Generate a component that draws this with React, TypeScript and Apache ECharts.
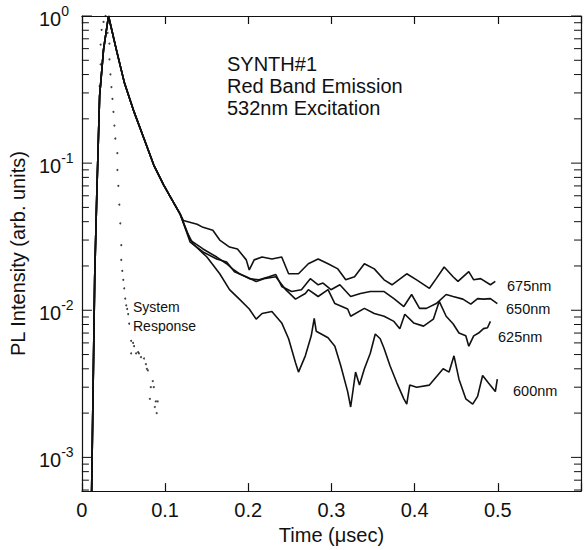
import React, { useEffect, useRef } from "react";
import * as echarts from "echarts";

const FONT = '"Liberation Sans", Arial, Helvetica, sans-serif';
const INK = "#111";

// Axis ranges
const X_MIN = 0;
const X_MAX = 0.6;
const Y_MIN = 0.00059;
const Y_MAX = 1;

// Tick values (log axis)
const yMajorTicks = [0.001, 0.01, 0.1, 1];
const yMinorTicks = [
  0.0006, 0.0007, 0.0008, 0.0009,
  0.002, 0.003, 0.004, 0.005, 0.006, 0.007, 0.008, 0.009,
  0.02, 0.03, 0.04, 0.05, 0.06, 0.07, 0.08, 0.09,
  0.2, 0.3, 0.4, 0.5, 0.6, 0.7, 0.8, 0.9,
];

// Shared rise + early decay (all four wavelengths overlap here)
const commonPart: number[][] = [
  [0.0116, 0.00055], [0.0154, 0.0169], [0.0178, 0.0582], [0.0213, 0.286],
  [0.026, 0.591], [0.032, 1.0], [0.0414, 0.591], [0.0509, 0.355],
  [0.0627, 0.223], [0.0746, 0.147], [0.0864, 0.097], [0.0982, 0.0712],
  [0.1089, 0.0556], [0.1183, 0.0448],
];

const tail675: number[][] = [
  [0.1219, 0.0408], [0.1385, 0.0384], [0.1456, 0.0366], [0.1574, 0.035],
  [0.1657, 0.03], [0.1775, 0.0269], [0.187, 0.0261], [0.1976, 0.022],
  [0.2012, 0.0188], [0.2071, 0.022], [0.2166, 0.023], [0.2284, 0.0223],
  [0.2402, 0.023], [0.2485, 0.0177], [0.2604, 0.0177], [0.2722, 0.0207],
  [0.284, 0.0223], [0.2959, 0.0207], [0.3077, 0.0191], [0.3172, 0.0161],
  [0.3278, 0.0169], [0.3396, 0.0207], [0.3515, 0.0191], [0.3633, 0.0161],
  [0.3728, 0.0149], [0.3905, 0.0177], [0.4024, 0.0161], [0.4178, 0.0141],
  [0.426, 0.0164], [0.4355, 0.0197], [0.4462, 0.0169], [0.4521, 0.0157],
  [0.4651, 0.0183], [0.471, 0.0161], [0.4793, 0.0164], [0.4911, 0.0149],
  [0.497, 0.0157],
];

const tail650: number[][] = [
  [0.1302, 0.03], [0.1456, 0.0261], [0.1621, 0.023], [0.174, 0.0207],
  [0.1811, 0.0191], [0.1893, 0.0177], [0.2012, 0.0164], [0.213, 0.0161],
  [0.2249, 0.0169], [0.2331, 0.0175], [0.2402, 0.0145], [0.2521, 0.0134],
  [0.2639, 0.0138], [0.2746, 0.0164], [0.284, 0.0149], [0.2899, 0.0153],
  [0.2994, 0.0138], [0.3101, 0.0149], [0.3231, 0.0124], [0.3349, 0.013],
  [0.3467, 0.0134], [0.3633, 0.0134], [0.3751, 0.012], [0.387, 0.0106],
  [0.3964, 0.0128], [0.4059, 0.0103], [0.4142, 0.0103], [0.426, 0.0111],
  [0.4379, 0.0128], [0.4462, 0.0124], [0.458, 0.0119], [0.4675, 0.011],
  [0.4757, 0.012], [0.4828, 0.0119], [0.4911, 0.012], [0.4994, 0.0111],
];

const tail625: number[][] = [
  [0.1302, 0.029], [0.1456, 0.0249], [0.1621, 0.0223], [0.174, 0.0213],
  [0.1834, 0.0183], [0.1976, 0.0169], [0.2095, 0.0157], [0.2189, 0.0164],
  [0.2331, 0.0169], [0.245, 0.0138], [0.2568, 0.0119], [0.2686, 0.013],
  [0.2722, 0.0138], [0.284, 0.0124], [0.2959, 0.0138], [0.3041, 0.0111],
  [0.3195, 0.0102], [0.3231, 0.0091], [0.3396, 0.0103], [0.3515, 0.0095],
  [0.3633, 0.0091], [0.3751, 0.0084], [0.3822, 0.0075], [0.3882, 0.0094],
  [0.3988, 0.0082], [0.4107, 0.0078], [0.4225, 0.0087], [0.4296, 0.0115],
  [0.4379, 0.0091], [0.4462, 0.0081], [0.4533, 0.007], [0.4615, 0.0067],
  [0.4651, 0.0057], [0.471, 0.0067], [0.4769, 0.007], [0.4828, 0.0075],
  [0.4876, 0.0076], [0.4911, 0.0084],
];

const tail600: number[][] = [
  [0.1266, 0.0339], [0.1337, 0.0282], [0.1503, 0.023], [0.1657, 0.0177],
  [0.1775, 0.0138], [0.1893, 0.0119], [0.2012, 0.0102], [0.2095, 0.0087],
  [0.2166, 0.0095], [0.2284, 0.0098], [0.2402, 0.0082], [0.2485, 0.0064],
  [0.2568, 0.0044], [0.2604, 0.0038], [0.2686, 0.0049], [0.2757, 0.0067],
  [0.2793, 0.0088], [0.2817, 0.0072], [0.2959, 0.0065], [0.3041, 0.0057],
  [0.3112, 0.0042], [0.3195, 0.0028], [0.3231, 0.0022], [0.329, 0.0038],
  [0.3337, 0.0031], [0.3396, 0.004], [0.3467, 0.0051], [0.3527, 0.0069],
  [0.3586, 0.0064], [0.3633, 0.0055], [0.3704, 0.0042], [0.3787, 0.0032],
  [0.387, 0.0025], [0.3905, 0.0023], [0.3941, 0.0031], [0.4024, 0.003],
  [0.4178, 0.0031], [0.4343, 0.004], [0.4414, 0.0038], [0.4473, 0.0049],
  [0.4533, 0.0034], [0.4615, 0.0025], [0.4698, 0.0023], [0.4757, 0.0026],
  [0.4817, 0.0036], [0.4888, 0.0032], [0.497, 0.0028], [0.4994, 0.0034],
];

const systemResponse: number[][] = [
  [0.0213, 0.334], [0.0225, 0.469], [0.0225, 0.639], [0.0237, 0.805],
  [0.026, 0.911], [0.0284, 1.0], [0.0308, 0.769], [0.0331, 0.649],
  [0.0331, 0.507], [0.0343, 0.401], [0.0355, 0.329], [0.0367, 0.273],
  [0.0379, 0.223], [0.0391, 0.18], [0.0402, 0.147], [0.0426, 0.117],
  [0.0426, 0.0898], [0.0438, 0.0701], [0.045, 0.0522], [0.0462, 0.039],
  [0.0473, 0.0277], [0.0473, 0.022], [0.0485, 0.0185], [0.0497, 0.0161],
  [0.0509, 0.0141], [0.0521, 0.012], [0.0533, 0.0108], [0.0544, 0.0102],
  [0.0556, 0.0094], [0.0568, 0.0081], [0.0592, 0.0062], [0.0615, 0.006],
  [0.0627, 0.0057], [0.0592, 0.0051], [0.0651, 0.0051], [0.0675, 0.0052],
  [0.0686, 0.0051], [0.071, 0.0048], [0.0746, 0.0047], [0.0769, 0.0043],
  [0.0781, 0.004], [0.0793, 0.0039], [0.0852, 0.0033], [0.0828, 0.003],
  [0.0864, 0.003], [0.0817, 0.0025], [0.0888, 0.0024], [0.0911, 0.0024],
  [0.0899, 0.002], [0.0876, 0.0022],
];

const curveLabels = [
  { text: "675nm", x: 507, y: 286 },
  { text: "650nm", x: 506, y: 309 },
  { text: "625nm", x: 498, y: 337 },
  { text: "600nm", x: 513, y: 391 },
];
const titleLines = ["SYNTH#1", "Red Band Emission", "532nm Excitation"];

function tickSeries(values: number[], len: number) {
  return {
    type: "custom",
    xAxisIndex: 0,
    yAxisIndex: 0,
    silent: true,
    clip: false,
    z: 5,
    data: values.map((v) => [X_MIN, v]),
    renderItem: (params: any, api: any) => {
      const v = api.value(1);
      const p0 = api.coord([X_MIN, v]);
      const p1 = api.coord([X_MAX, v]);
      const style = { stroke: INK, lineWidth: 1 };
      return {
        type: "group",
        children: [
          { type: "line", shape: { x1: p0[0], y1: p0[1], x2: p0[0] + len, y2: p0[1] }, style },
          { type: "line", shape: { x1: p1[0] - len, y1: p1[1], x2: p1[0], y2: p1[1] }, style },
        ],
      };
    },
  };
}

function lineSeries(name: string, tail: number[][]) {
  return {
    name,
    type: "line",
    xAxisIndex: 0,
    yAxisIndex: 0,
    data: commonPart.concat(tail),
    showSymbol: false,
    symbol: "none",
    lineStyle: { color: INK, width: 1.6 },
    z: 3,
  };
}

export default function App() {
  const ref = useRef<HTMLDivElement>(null);
  useEffect(() => {
    if (!ref.current) return;
    const chart = echarts.init(ref.current, null, { renderer: "svg" });
    const axisLineStyle = { lineStyle: { color: INK, width: 1.2 } };
    const option: any = {
      animation: false,
      backgroundColor: "#fff",
      grid: { left: 79, right: -3, top: 16, bottom: 53, containLabel: false },
      xAxis: [
        {
          type: "value",
          position: "bottom",
          min: X_MIN,
          max: X_MAX,
          interval: 0.1,
          axisLine: { show: true, onZero: false, ...axisLineStyle },
          axisTick: { show: true, inside: true, length: 8, lineStyle: { color: INK, width: 1.2 } },
          splitLine: { show: false },
          axisLabel: {
            margin: 9,
            fontFamily: FONT,
            fontSize: 20,
            color: INK,
            formatter: (v: number) => (v > 0.55 ? "" : v === 0 ? "0" : String(Math.round(v * 10) / 10)),
          },
          name: "Time (\u03bcsec)",
          nameLocation: "middle",
          nameGap: 28,
          nameTextStyle: { fontFamily: FONT, fontSize: 20, color: INK },
        },
        {
          type: "value",
          position: "top",
          min: X_MIN,
          max: X_MAX,
          interval: 0.1,
          axisLine: { show: true, onZero: false, ...axisLineStyle },
          axisTick: { show: true, inside: true, length: 8, lineStyle: { color: INK, width: 1.2 } },
          splitLine: { show: false },
          axisLabel: { show: false },
        },
      ],
      yAxis: [
        {
          type: "log",
          logBase: 10,
          position: "left",
          min: Y_MIN,
          max: Y_MAX,
          axisLine: { show: true, onZero: false, ...axisLineStyle },
          axisTick: { show: false },
          minorTick: { show: false },
          splitLine: { show: false },
          axisLabel: {
            margin: 43,
            align: "left",
            formatter: (v: number) => {
              const e = Math.log10(v);
              const r = Math.round(e);
              if (Math.abs(e - r) > 1e-6) return "";
              return "{b|10}{s|" + (r === 0 ? "0" : String(r)) + "}";
            },
            rich: {
              b: { fontFamily: FONT, fontSize: 20, color: INK, lineHeight: 24, padding: [6, 0, 0, 0] },
              s: { fontFamily: FONT, fontSize: 14, color: INK, lineHeight: 14, verticalAlign: "top" },
            },
          },
          name: "PL Intensity (arb. units)",
          nameLocation: "middle",
          nameGap: 50,
          nameTextStyle: { fontFamily: FONT, fontSize: 20, color: INK },
        },
        {
          type: "log",
          logBase: 10,
          position: "right",
          min: Y_MIN,
          max: Y_MAX,
          axisLine: { show: true, onZero: false, ...axisLineStyle },
          axisTick: { show: false },
          splitLine: { show: false },
          axisLabel: { show: false },
        },
      ],
      graphic: [
        ...titleLines.map((t, i) => ({
          type: "text",
          x: 227,
          y: 64 + i * 22,
          style: { text: t, font: `20px ${FONT}`, fill: INK, align: "left", verticalAlign: "middle" },
        })),
        ...curveLabels.map((c) => ({
          type: "text",
          x: c.x,
          y: c.y,
          style: { text: c.text, font: `14.5px ${FONT}`, fill: INK, align: "left", verticalAlign: "middle" },
        })),
        {
          type: "text",
          x: 133,
          y: 307,
          style: { text: "System", font: `14px ${FONT}`, fill: INK, align: "left", verticalAlign: "middle" },
        },
        {
          type: "text",
          x: 133,
          y: 326,
          style: { text: "Response", font: `14px ${FONT}`, fill: INK, align: "left", verticalAlign: "middle" },
        },
      ],
      series: [
        lineSeries("675nm", tail675),
        lineSeries("650nm", tail650),
        lineSeries("625nm", tail625),
        lineSeries("600nm", tail600),
        {
          name: "System Response",
          type: "scatter",
          xAxisIndex: 0,
          yAxisIndex: 0,
          data: systemResponse,
          symbol: "circle",
          symbolSize: 2,
          itemStyle: { color: INK },
          z: 4,
        },
        tickSeries(yMajorTicks, 10),
        tickSeries(yMinorTicks, 7),
      ],
    };
    chart.setOption(option);
    return () => chart.dispose();
  }, []);
  return (
    <div
      ref={ref}
      style={{ position: "fixed", left: 0, top: 0, width: 584, height: 550, background: "#fff" }}
    />
  );
}
